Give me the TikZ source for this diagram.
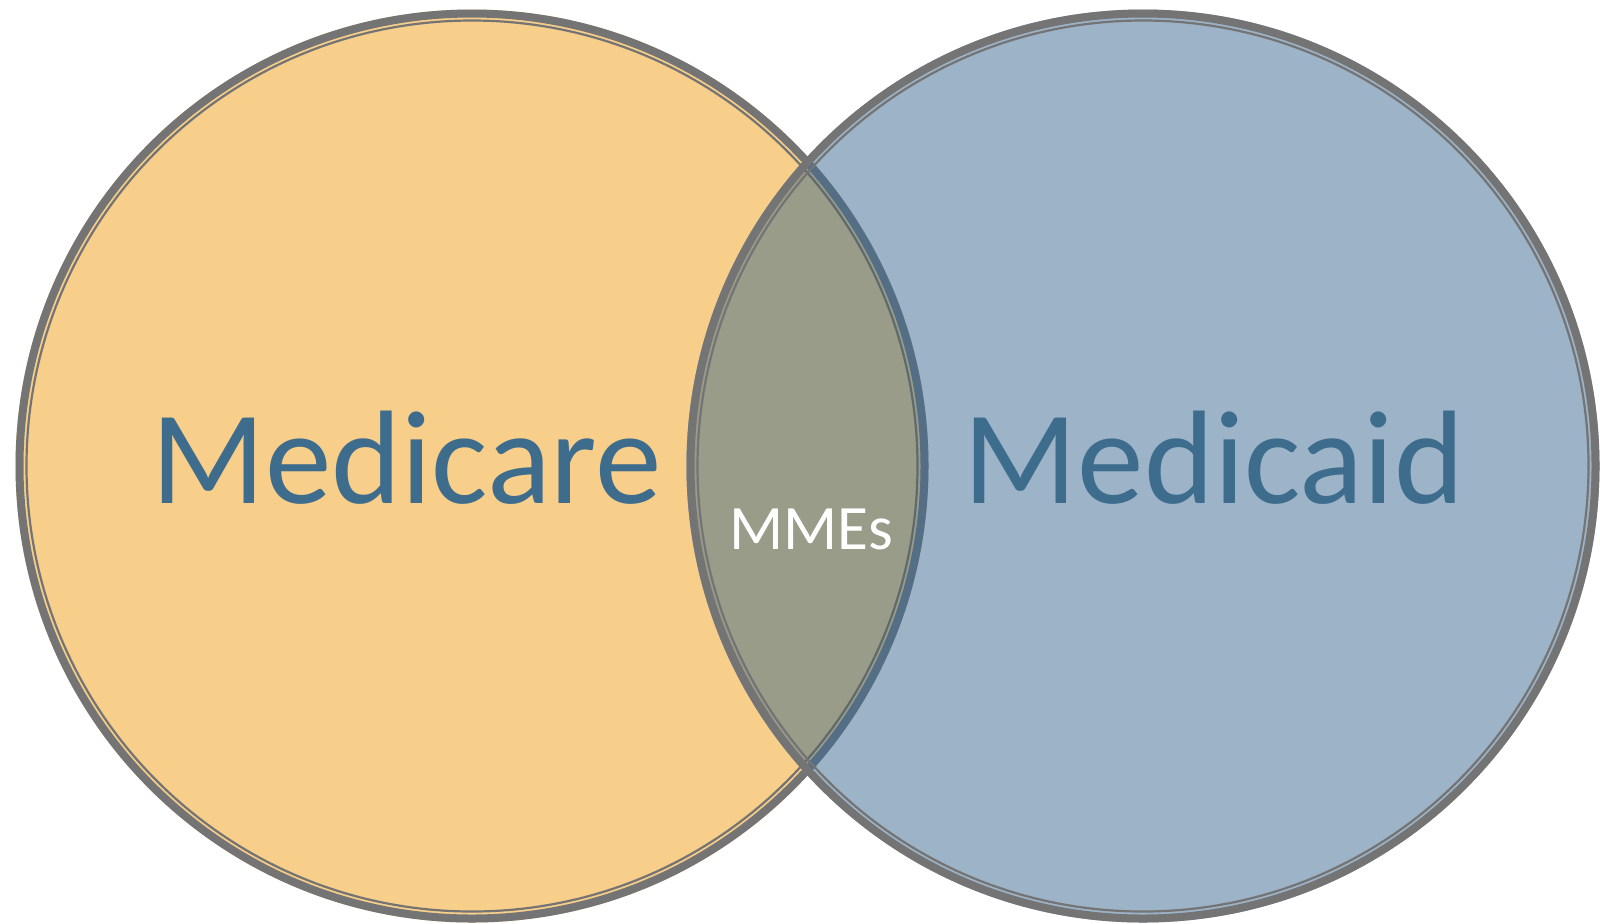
\documentclass[tikz,border=0pt]{standalone}
\usepackage{fontspec}
\setmainfont{Carlito}
\definecolor{orangefill}{HTML}{F8CE8B}
\definecolor{bluefill}{HTML}{9DB3C7}
\definecolor{lensfill}{HTML}{989C89}
\definecolor{rimgray}{HTML}{747474}
\definecolor{rimblue}{HTML}{546E86}
\definecolor{rimlens}{HTML}{606A6C}
\definecolor{labelblue}{HTML}{3D6C8C}
\tikzset{
  thickrim/.style={line width=0.08cm},
  thinrim/.style={line width=0.022cm},
  biglabel/.style={inner sep=0pt, anchor=base, text=labelblue, font=\fontsize{37.9pt}{40pt}\selectfont},
  smalllabel/.style={inner sep=0pt, anchor=base, text=white, font=\fontsize{18pt}{20pt}\selectfont}
}
\begin{document}
\begin{tikzpicture}[x=1cm,y=-1cm]
\useasboundingbox (0,0) rectangle (16,9.23);
\coordinate (cl) at (4.72,4.66);
\coordinate (cr) at (11.43,4.66);
% left disk
\fill[orangefill] (cl) circle[radius=4.565cm];
\draw[rimgray,thickrim] (cl) circle[radius=4.525cm];
\draw[rimgray,thinrim] (cl) circle[radius=4.455cm];
% right disk
\fill[bluefill] (cr) circle[radius=4.565cm];
% lens
\begin{scope}
  \clip (cl) circle[radius=4.565cm];
  \fill[lensfill] (cr) circle[radius=4.565cm];
\end{scope}
% left rim seen through right disk
\begin{scope}
  \clip (cr) circle[radius=4.565cm];
  \draw[rimblue,thickrim] (cl) circle[radius=4.525cm];
  \draw[rimlens,thinrim] (cl) circle[radius=4.455cm];
\end{scope}
% right rim
\draw[rimgray,thickrim] (cr) circle[radius=4.525cm];
\draw[rimgray,thinrim] (cr) circle[radius=4.455cm];
% labels
\node[biglabel] (medicare) at (4.065,5.03) {Medicare};
\node[biglabel] (medicaid) at (12.14,5.03) {Medicaid};
\node[smalllabel] (mmes) at (8.11,5.49) {MMEs};
\end{tikzpicture}
\end{document}
